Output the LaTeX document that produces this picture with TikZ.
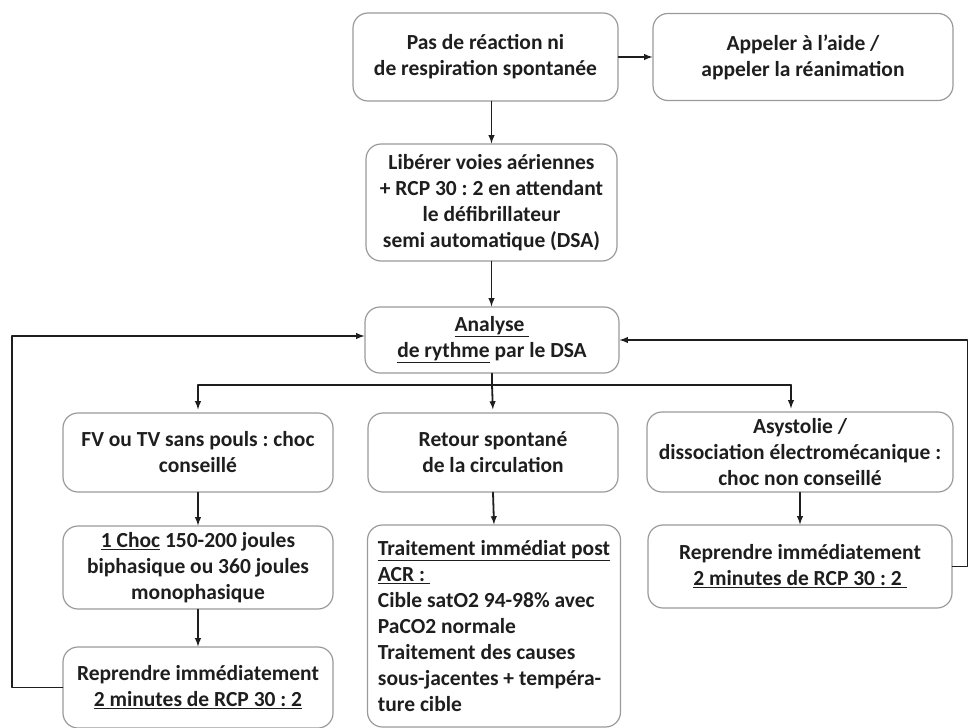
\documentclass[tikz,border=0pt]{standalone}
\usepackage{fontspec}
\setmainfont{Carlito}
\usepackage{tikz}
\usetikzlibrary{arrows}
\frenchspacing

\definecolor{boxgray}{HTML}{9A9A9A}
\definecolor{inkdark}{HTML}{1E1E1E}

\begin{document}
\begin{tikzpicture}[line cap=round,line join=round,>=latex,x=1pt,y=-1pt,
    box/.style={draw=boxgray,line width=1.2pt,rounded corners=15pt,align=center,
      text=inkdark,inner sep=4pt,font=\fontsize{21.5}{26}\selectfont\bfseries},
    flow/.style={->,draw=inkdark,line width=1.8pt}]
      \useasboundingbox (0,0) rectangle (969,728);

      % top row
      \node[box,minimum width=265,minimum height=88] (pas) at (485.5,57)
        {Pas de réaction ni\\de respiration spontanée};
      \node[box,minimum width=300,minimum height=87] (aide) at (803,57)
        {Appeler à l’aide /\\appeler la réanimation};
      \node[box,minimum width=251,minimum height=117] (lib) at (491.5,202.5)
        {Libérer voies aériennes\\+ RCP 30 : 2 en attendant\\le défibrillateur\\semi automatique (DSA)};
      \node[box,minimum width=254,minimum height=66] (ana) at (492,340)
        {\underline{Analyse\ }\\\underline{de rythme} par le DSA};

      % three branches
      \node[box,minimum width=270,minimum height=79] (fv) at (198,452.5)
        {FV ou TV sans pouls : choc\\conseillé};
      \node[box,minimum width=250,minimum height=79] (ret) at (493,452.5)
        {Retour spontané\\de la circulation};
      \node[box,minimum width=306,minimum height=80] (asy) at (800,452)
        {Asystolie /\\dissociation électromécanique :\\choc non conseillé};

      \node[box,minimum width=270,minimum height=83] (choc) at (198,567.5)
        {\underline{1 Choc} 150-200 joules\\biphasique ou 360 joules\\monophasique};
      \node[box,minimum width=253,minimum height=202,align=left] (trt) at (494,626)
        {\underline{Traitement immédiat post}\\\underline{ACR :\ }\\Cible satO2 94-98\% avec\\PaCO2 normale\\Traitement des causes\\sous-jacentes + tempéra-\\ture cible};
      \node[box,minimum width=304,minimum height=83] (rep2) at (800,566.5)
        {Reprendre immédiatement\\\underline{2 minutes de RCP 30 : 2\ }};
      \node[box,minimum width=270,minimum height=81] (rep1) at (198,687.5)
        {Reprendre immédiatement\\\underline{2 minutes de RCP 30 : 2}};

      % corners of the branch line and of the two loops
      \coordinate (brl) at (198,385);
      \coordinate (brr) at (791,385);
      \coordinate (lt) at (12,336);
      \coordinate (rt) at (967.5,340);

      \draw[flow] (pas.east) -- (aide.west);
      \draw[flow] (pas.south -| lib.north) -- (lib.north);
      \draw[flow] (lib.south) -- (lib.south |- ana.north);

      \draw[draw=inkdark,line width=1.8pt] (ana.south) -- (ana.south |- brl);
      \draw[draw=inkdark,line width=1.8pt] (brl) -- (brr);
      \draw[flow,shorten >=3pt] (brl) -- (brl |- fv.north);
      \draw[flow,shorten >=3pt] (ana.south |- brl) -- (ret.north);
      \draw[flow,shorten >=3pt] (brr) -- (brr |- asy.north);

      \draw[flow] (fv.south) -- (choc.north);
      \draw[flow] (choc.south) -- (rep1.north);
      \draw[flow] (ret.south) -- (trt.north);
      \draw[flow] (asy.south) -- (rep2.north);

      % loops back to the analysis
      \draw[flow] (rep1.west) -| (lt) -- (lt -| ana.west);
      \draw[flow] (rep2.east) -| (rt) -- (rt -| ana.east);
    \end{tikzpicture}
\end{document}
